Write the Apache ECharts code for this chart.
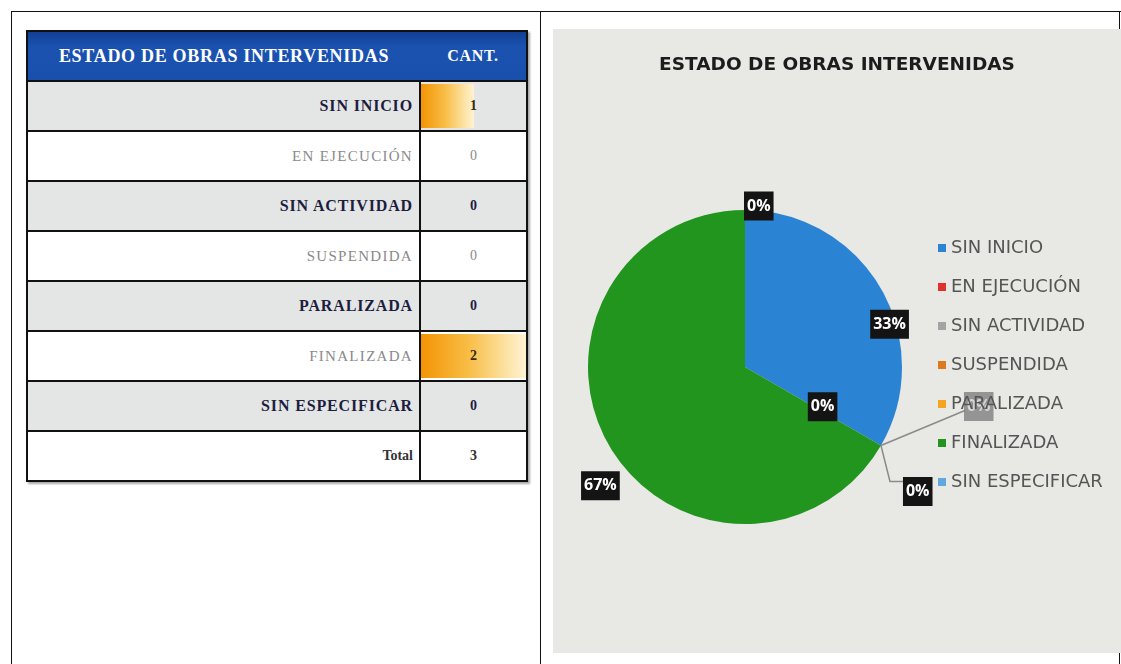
<!DOCTYPE html>
<html>
<head>
<meta charset="utf-8">
<script src="https://cdn.jsdelivr.net/npm/echarts@6/dist/echarts.min.js"></script>
<style>
body { margin: 0; width: 1121px; height: 664px; background: #fff; position: relative; overflow: hidden; }
.linea { position: absolute; background: #111; }
#tabla { position: absolute; left: 26px; top: 30px; width: 502px; border-collapse: collapse;
  font-family: "Liberation Serif", serif; font-size: 13px; box-shadow: 2px 2px 2px rgba(0,0,0,.35); }
#tabla td, #tabla th { height: 48px; padding: 0; border: 2px solid #111; }
#tabla th { background: linear-gradient(#123f94, #1b52b0 30%, #1a50ad); color: #fff; font-weight: bold;
  letter-spacing: 0.7px; font-size: 18px; border-left: none; border-right: none; }
#tabla th.col2 { border-right: 2px solid #111; font-size: 16px; }
#tabla th.col1 { border-left: 2px solid #111; }
#tabla td.nombre { text-align: right; padding-right: 6px; }
#tabla td.cant { text-align: center; position: relative; width: 105px; letter-spacing: 0; font-size: 14px; }
tr.gris td { background: #e4e6e5; color: #1d1d40; font-weight: bold; letter-spacing: 0.85px; font-size: 16px; }
tr.claro td { background: #fff; color: #8a8a8a; letter-spacing: 1.3px; font-size: 15px; }
tr.total td { background: #fff; color: #333; font-weight: bold; border-top: 3px solid #1a4ea6; font-size: 14px; }
.barra { position: absolute; left: 0; top: 2px; bottom: 2px;
  background: linear-gradient(to right, #f39405, #f8bd45 45%, #fde6ad 85%, #fff2d4); }
.valor { position: relative; }
.valor.nz { color: #3a2a0a; font-weight: bold; }
#grafico { position: absolute; left: 553px; top: 29px; width: 568px; height: 624px; }
</style>
</head>
<body>
<div class="linea" style="left:11px;top:11px;width:1110px;height:1px"></div>
<div class="linea" style="left:11px;top:11px;width:1px;height:653px"></div>
<div class="linea" style="left:540px;top:11px;width:1px;height:653px"></div>
<div class="linea" style="left:1119px;top:11px;width:1px;height:653px"></div>

<table id="tabla"></table>
<div id="grafico"></div>

<script>
// datos
var estados = ['SIN INICIO', 'EN EJECUCIÓN', 'SIN ACTIVIDAD', 'SUSPENDIDA', 'PARALIZADA', 'FINALIZADA', 'SIN ESPECIFICAR'];
var cantidades = [1, 0, 0, 0, 0, 2, 0];
var colores = ['#2b83d4', '#e0322a', '#a4a4a4', '#dc7a1e', '#f5a420', '#22951f', '#62a8df'];
var tituloTabla = ['ESTADO DE OBRAS INTERVENIDAS', 'CANT.'];
var titulo = 'ESTADO DE OBRAS INTERVENIDAS';

// tabla
var maximo = Math.max.apply(null, cantidades);
var total = cantidades.reduce(function (a, b) { return a + b; }, 0);
var html = '<tr><th class="col1">' + tituloTabla[0] + '</th><th class="col2">' + tituloTabla[1] + '</th></tr>';
estados.forEach(function (e, i) {
    var v = cantidades[i];
    var barra = v > 0 ? '<div class="barra" style="width:' + (v / maximo * 100) + '%"></div>' : '';
    html += '<tr class="' + (i % 2 === 0 ? 'gris' : 'claro') + '"><td class="nombre">' + e + '</td>' +
        '<td class="cant">' + barra + '<span class="valor' + (v > 0 ? ' nz' : '') + '">' + v + '</span></td></tr>';
});
html += '<tr class="total"><td class="nombre">Total</td><td class="cant">' + total + '</td></tr>';
document.getElementById('tabla').innerHTML = html;

// grafico
var myChart = echarts.init(document.getElementById('grafico'));

var etiqueta = {
    show: true,
    formatter: '{d}%',
    color: '#fff',
    backgroundColor: '#141414',
    fontFamily: 'Open Sans',
    fontWeight: 'bold',
    fontSize: 16,
    padding: [7, 3, 6, 3]
};

var datos = estados.map(function (e, i) {
    return { name: e, value: cantidades[i], itemStyle: { color: colores[i] } };
});
// ubicacion de las etiquetas (como en Excel)
datos[0].label = { position: 'inside', offset: [74, -2] };
datos[1].label = { position: 'inside', offset: [7, -1] };
datos[2].label = { show: false };
datos[3].label = { position: 'outside', backgroundColor: 'rgba(120,120,120,0.75)', color: '#d5d5d5' };
datos[3].labelLine = { show: true, length: 10, length2: 10 };
datos[4].label = { position: 'outside' };
datos[4].labelLine = { show: true, length: 10, length2: 10 };
datos[5].label = { position: 'inside', offset: [-74, 78] };
datos[6].label = { position: 'outside' };
datos[6].labelLine = { show: false, length: 4, length2: 0 };

var option = {
    backgroundColor: '#e8e8e5',
    title: {
        text: titulo,
        left: 'center',
        top: 22,
        textStyle: { color: '#1c1c1c', fontFamily: 'DejaVu Sans', fontWeight: 'bold', fontSize: 18.5 }
    },
    legend: {
        orient: 'vertical',
        left: 380,
        top: 204,
        icon: 'rect',
        itemWidth: 8,
        itemHeight: 8,
        itemGap: 19,
        textStyle: { color: '#555', fontFamily: 'DejaVu Sans', fontSize: 18, lineHeight: 20 },
        data: estados
    },
    series: [{
        type: 'pie',
        center: [192, 338],
        radius: 157,
        startAngle: 90,
        clockwise: true,
        avoidLabelOverlap: false,
        percentPrecision: 0,
        itemStyle: { borderWidth: 0 },
        label: etiqueta,
        labelLine: { lineStyle: { color: '#8a8a8a', width: 1.5 }, smooth: false },
        labelLayout: function (p) {
            var a = p.labelLinePoints && p.labelLinePoints[0];
            if (p.dataIndex === 3 && a) {
                return {
                    x: a[0] + 83, y: a[1] - 39, align: 'left', verticalAlign: 'middle',
                    labelLinePoints: [a, [a[0] + 84, a[1] - 35], [a[0] + 84, a[1] - 35]]
                };
            }
            if (p.dataIndex === 4 && a) {
                return {
                    x: a[0] + 22, y: a[1] + 46, align: 'left', verticalAlign: 'middle',
                    labelLinePoints: [a, [a[0] + 9, a[1] + 36], [a[0] + 24, a[1] + 36]]
                };
            }
            if (p.dataIndex === 6) {
                return { dx: p.labelRect.width + 4 };
            }
            return {};
        },
        data: datos
    }]
};

myChart.setOption(option);
</script>
</body>
</html>
